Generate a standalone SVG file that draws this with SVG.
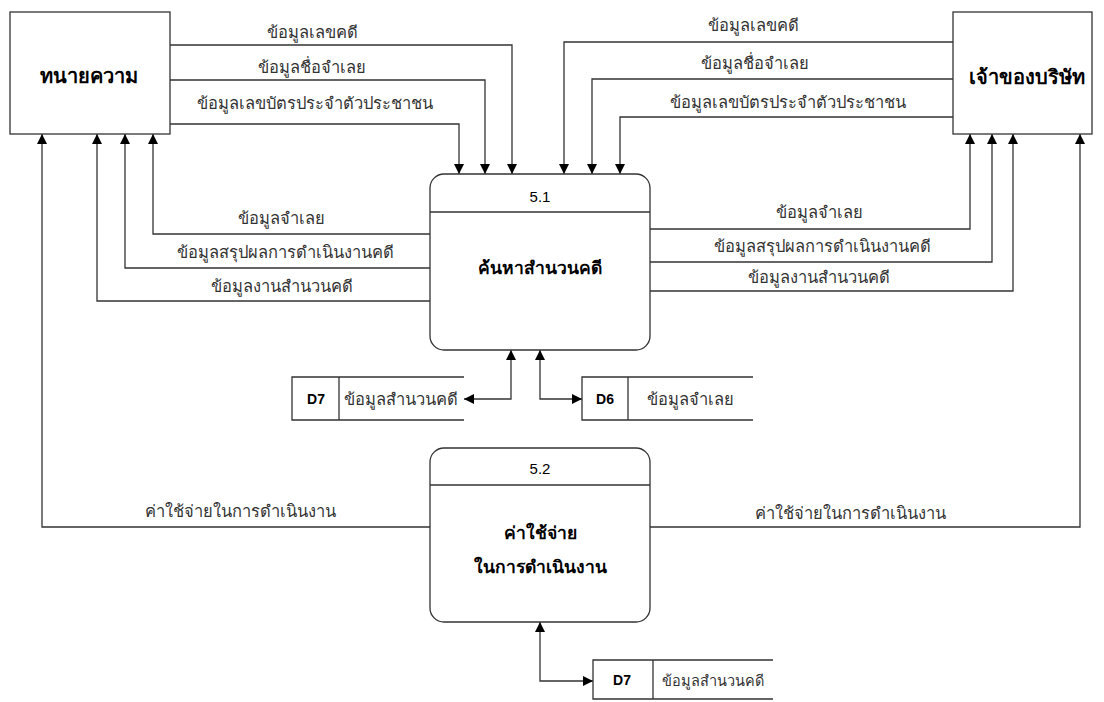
<svg xmlns="http://www.w3.org/2000/svg" width="1104" height="702" viewBox="0 0 1104 702">
<defs>
<style>
.box{fill:#fff;stroke:#333;stroke-width:1.3}
.ln{fill:none;stroke:#333;stroke-width:1.3}
.lbl{font-family:"Liberation Sans","Noto Sans",sans-serif;font-size:16.5px;fill:#333;text-anchor:middle}
.ttl{font-family:"Liberation Sans","Noto Sans",sans-serif;font-size:17.5px;font-weight:bold;fill:#000;text-anchor:middle}
.ent{font-family:"Liberation Sans","Noto Sans",sans-serif;font-size:20px;font-weight:bold;fill:#000;text-anchor:middle}
.num{font-family:"Liberation Sans","Noto Sans",sans-serif;font-size:15px;fill:#000;text-anchor:middle}
.sid{font-family:"Liberation Sans","Noto Sans",sans-serif;font-size:14px;font-weight:bold;fill:#000;text-anchor:middle}
</style>
<marker id="ah" viewBox="0 0 10 10" refX="10" refY="5" markerWidth="10" markerHeight="10" markerUnits="userSpaceOnUse" orient="auto-start-reverse">
<path d="M0,0 L10,5 L0,10 Z" fill="#000"/>
</marker>
</defs>
<rect width="1104" height="702" fill="#fff"/>

<g id="connectors">
<path class="ln" d="M170,45 H512 V174" marker-end="url(#ah)"/>
<path class="ln" d="M170,80 H485 V174" marker-end="url(#ah)"/>
<path class="ln" d="M170,124 H459 V174" marker-end="url(#ah)"/>
<path class="ln" d="M953,42 H564 V174" marker-end="url(#ah)"/>
<path class="ln" d="M953,79 H592 V174" marker-end="url(#ah)"/>
<path class="ln" d="M953,117 H620 V174" marker-end="url(#ah)"/>
<path class="ln" d="M430,234 H153 V134" marker-end="url(#ah)"/>
<path class="ln" d="M430,268 H125 V134" marker-end="url(#ah)"/>
<path class="ln" d="M430,301 H97 V134" marker-end="url(#ah)"/>
<path class="ln" d="M650,229 H970 V134" marker-end="url(#ah)"/>
<path class="ln" d="M650,262 H992 V134" marker-end="url(#ah)"/>
<path class="ln" d="M650,291 H1013 V134" marker-end="url(#ah)"/>
<path class="ln" d="M464,399 H511 V350" marker-start="url(#ah)" marker-end="url(#ah)"/>
<path class="ln" d="M540,350 V399 H582" marker-start="url(#ah)" marker-end="url(#ah)"/>
<path class="ln" d="M430,527 H42 V134" marker-end="url(#ah)"/>
<path class="ln" d="M650,527 H1080 V134" marker-end="url(#ah)"/>
<path class="ln" d="M540,622 V681 H593" marker-start="url(#ah)" marker-end="url(#ah)"/>
<text class="lbl" x="312" y="38">ข้อมูลเลขคดี</text>
<text class="lbl" x="312" y="73">ข้อมูลชื่อจำเลย</text>
<text class="lbl" x="315" y="109">ข้อมูลเลขบัตรประจำตัวประชาชน</text>
<text class="lbl" x="753" y="31">ข้อมูลเลขคดี</text>
<text class="lbl" x="755" y="69">ข้อมูลชื่อจำเลย</text>
<text class="lbl" x="788" y="108">ข้อมูลเลขบัตรประจำตัวประชาชน</text>
<text class="lbl" x="281" y="224">ข้อมูลจำเลย</text>
<text class="lbl" x="285" y="258">ข้อมูลสรุปผลการดำเนินงานคดี</text>
<text class="lbl" x="282" y="292">ข้อมูลงานสำนวนคดี</text>
<text class="lbl" x="819" y="218">ข้อมูลจำเลย</text>
<text class="lbl" x="822" y="252">ข้อมูลสรุปผลการดำเนินงานคดี</text>
<text class="lbl" x="819" y="283">ข้อมูลงานสำนวนคดี</text>
<text class="lbl" x="240" y="517">ค่าใช้จ่ายในการดำเนินงาน</text>
<text class="lbl" x="850" y="519">ค่าใช้จ่ายในการดำเนินงาน</text>
</g>

<g id="lawyer">
<rect class="box" x="10" y="12" width="160" height="122"/>
<text class="ent" x="89" y="83">ทนายความ</text>
</g>

<g id="owner">
<rect class="box" x="953" y="12" width="139" height="122"/>
<text class="ent" x="1027" y="84">เจ้าของบริษัท</text>
</g>

<g id="p51">
<rect class="box" x="430" y="174" width="220" height="176" rx="14"/>
<line class="ln" x1="430" y1="212" x2="650" y2="212"/>
<text class="num" x="540" y="202">5.1</text>
<text class="ttl" x="540" y="274">ค้นหาสำนวนคดี</text>
</g>

<g id="p52">
<rect class="box" x="430" y="448" width="220" height="174" rx="14"/>
<line class="ln" x1="430" y1="485" x2="650" y2="485"/>
<text class="num" x="540" y="474">5.2</text>
<text class="ttl" x="540" y="539">ค่าใช้จ่าย</text>
<text class="ttl" x="540" y="573">ในการดำเนินงาน</text>
</g>

<g id="d7a">
<path class="ln" d="M464,377 H292 V420 H464"/>
<line class="ln" x1="339" y1="377" x2="339" y2="420"/>
<text class="sid" x="316" y="404">D7</text>
<text class="lbl" x="401" y="405">ข้อมูลสำนวนคดี</text>
</g>

<g id="d6">
<path class="ln" d="M753,377 H582 V420 H753"/>
<line class="ln" x1="628" y1="377" x2="628" y2="420"/>
<text class="sid" x="605" y="404">D6</text>
<text class="lbl" x="690" y="405">ข้อมูลจำเลย</text>
</g>

<g id="d7b">
<path class="ln" d="M773,660 H593 V699 H773"/>
<line class="ln" x1="653" y1="660" x2="653" y2="699"/>
<text class="sid" x="622" y="685">D7</text>
<text class="lbl" x="713" y="686" style="font-size:14.5px">ข้อมูลสำนวนคดี</text>
</g>
</svg>
